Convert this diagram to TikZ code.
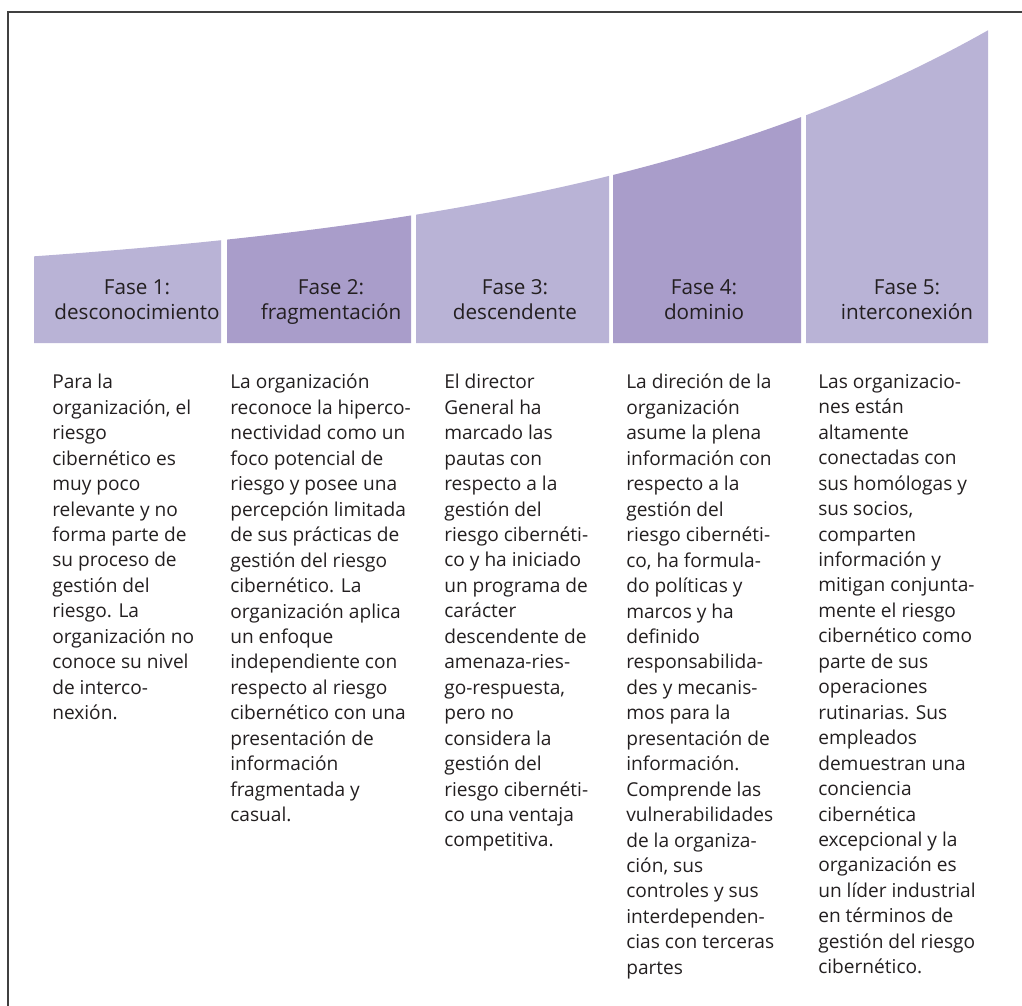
\documentclass[tikz,border=0pt]{standalone}
\usepackage{fontspec}
\setmainfont{Open Sans}
\usepackage{xcolor}
\definecolor{faseclara}{HTML}{B9B3D6}
\definecolor{faseoscura}{HTML}{A99DCA}
\definecolor{tinta}{HTML}{231F20}

\begin{document}
\begin{tikzpicture}[
    x=0.025cm, y=-0.025cm,
    titulo/.style={inner sep=0, anchor=north, align=center, text=tinta, font=\fontsize{14.7}{17.8}\selectfont},
    cuerpo/.style={inner sep=0, anchor=north west, align=left, text=tinta, font=\fontsize{13.6}{18.1}\selectfont},
    marco/.style={draw=black!75, line width=1.2pt},
    clara/.style={fill=faseclara},
    oscura/.style={fill=faseoscura}
]
\useasboundingbox (0,0) rectangle (1022,1006);

% Frame
\draw[marco] (8,1006) -- (8,12) -- (1022,12);

% Rising phase bands
\path[clara] (34,343) -- plot[domain=34:221, samples=20] (\x,{288-29.4*exp(0.0022*\x)}) -- (221,343) -- cycle;
\path[oscura] (227,343) -- plot[domain=227:411, samples=20] (\x,{288-29.4*exp(0.0022*\x)}) -- (411,343) -- cycle;
\path[clara] (416,343) -- plot[domain=416:609, samples=20] (\x,{288-29.4*exp(0.0022*\x)}) -- (609,343) -- cycle;
\path[oscura] (613,343) -- plot[domain=613:801, samples=20] (\x,{288-29.4*exp(0.0022*\x)}) -- (801,343) -- cycle;
\path[clara] (806,343) -- plot[domain=806:988, samples=20] (\x,{288-29.4*exp(0.0022*\x)}) -- (988,343) -- cycle;

% Phase titles
\node[titulo] (fase1) at (137,279) {Fase 1:\\desconocimiento};
\node[titulo] (fase2) at (331,279) {Fase 2:\\fragmentación};
\node[titulo] (fase3) at (515,279) {Fase 3:\\descendente};
\node[titulo] (fase4) at (704,279) {Fase 4:\\dominio};
\node[titulo] (fase5) at (907,279) {Fase 5:\\interconexión};

% Descriptions
\node[cuerpo] (texto1) at (52,374) {Para la\\organización, el\\riesgo\\cibernético es\\muy poco\\relevante y no\\forma parte de\\su proceso de\\gestión del\\riesgo. La\\organización no\\conoce su nivel\\de interco-\\nexión.};
\node[cuerpo] (texto2) at (230,374) {La organización\\reconoce la hiperco-\\nectividad como un\\foco potencial de\\riesgo y posee una\\percepción limitada\\de sus prácticas de\\gestión del riesgo\\cibernético. La\\organización aplica\\un enfoque\\independiente con\\respecto al riesgo\\cibernético con una\\presentación de\\información\\fragmentada y\\casual.};
\node[cuerpo] (texto3) at (444,374) {El director\\General ha\\marcado las\\pautas con\\respecto a la\\gestión del\\riesgo cibernéti-\\co y ha iniciado\\un programa de\\carácter\\descendente de\\amenaza-ries-\\go-respuesta,\\pero no\\considera la\\gestión del\\riesgo cibernéti-\\co una ventaja\\competitiva.};
\node[cuerpo] (texto4) at (626,374) {La direción de la\\organización\\asume la plena\\información con\\respecto a la\\gestión del\\riesgo cibernéti-\\co, ha formula-\\do políticas y\\marcos y ha\\definido\\responsabilida-\\des y mecanis-\\mos para la\\presentación de\\información.\\Comprende las\\vulnerabilidades\\de la organiza-\\ción, sus\\controles y sus\\interdependen-\\cias con terceras\\partes};
\node[cuerpo] (texto5) at (818,374) {Las organizacio-\\nes están\\altamente\\conectadas con\\sus homólogas y\\sus socios,\\comparten\\información y\\mitigan conjunta-\\mente el riesgo\\cibernético como\\parte de sus\\operaciones\\rutinarias. Sus\\empleados\\demuestran una\\conciencia\\cibernética\\excepcional y la\\organización es\\un líder industrial\\en términos de\\gestión del riesgo\\cibernético.};

\end{tikzpicture}
\end{document}
